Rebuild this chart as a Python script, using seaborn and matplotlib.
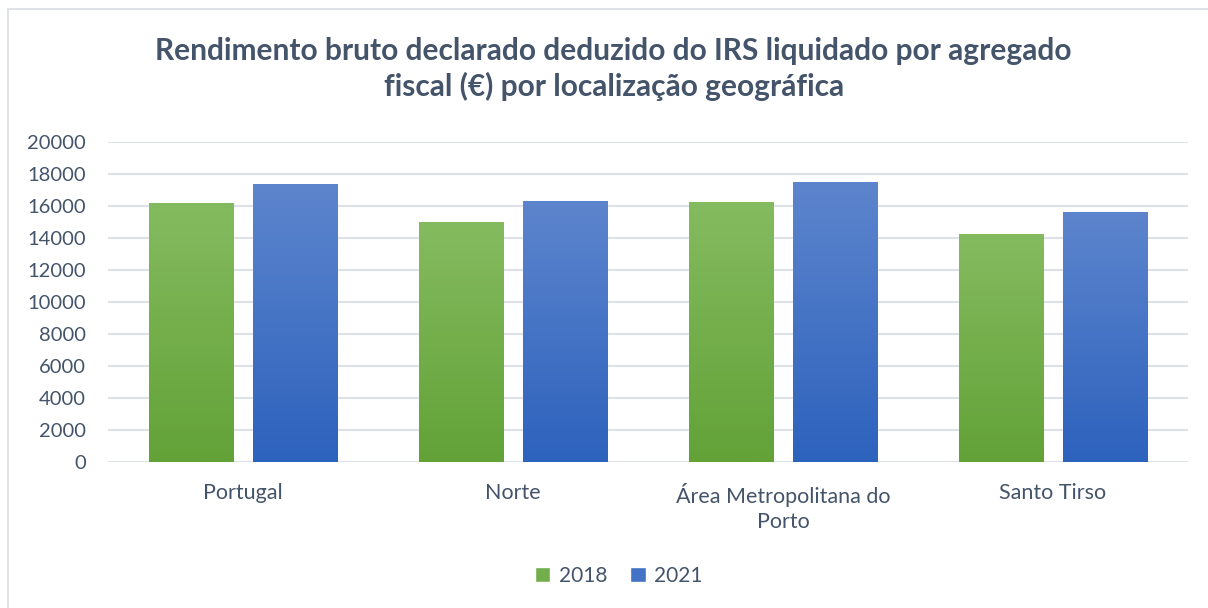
import numpy as np
import pandas as pd
import matplotlib.pyplot as plt
import seaborn as sns
from matplotlib.colors import LinearSegmentedColormap
from matplotlib.patches import Rectangle, Patch

# dados
locais = ["Portugal", "Norte", "Área Metropolitana do\nPorto", "Santo Tirso"]
anos = ["2018", "2021"]
valores_2018 = [16200, 15000, 16250, 14250]
valores_2021 = [17370, 16300, 17500, 15620]

df = pd.DataFrame({
    "local": locais * 2,
    "ano": [anos[0]] * 4 + [anos[1]] * 4,
    "valor": valores_2018 + valores_2021,
})

cor_texto = "#44546A"
# (base, topo) do gradiente de cada série
gradientes = {"2018": ("#62A237", "#85BB60"), "2021": ("#2D62BD", "#5D85CD")}
cores = {"2018": "#72AE4B", "2021": "#4472C4"}

sns.set_style("white")
plt.rcParams["font.family"] = ["Lato", "DejaVu Sans"]

fig = plt.figure(figsize=(12.08, 6.08), dpi=100)
ax = fig.add_axes([108 / 1208, 1 - 462 / 608, 1080 / 1208, 320 / 608])

sns.barplot(data=df, x="local", y="valor", hue="ano", palette=cores,
            width=0.77, gap=0.183, legend=False, ax=ax, zorder=3)

# gradiente vertical em cada barra (como no Excel)
for cont, ano in zip(ax.containers, anos):
    cmap = LinearSegmentedColormap.from_list("g" + ano, gradientes[ano])
    for bar in cont:
        x0, y0 = bar.get_x(), bar.get_y()
        w, h = bar.get_width(), bar.get_height()
        grad = np.linspace(0, 1, 256).reshape(-1, 1)
        im = ax.imshow(grad, cmap=cmap, aspect="auto", origin="lower",
                       extent=(x0, x0 + w, y0, y0 + h), zorder=4)
        im.set_clip_path(bar)

ax.set_xlim(-0.5, 3.5)
ax.set_ylim(0, 20000)
ax.set_yticks(range(0, 20001, 2000))
ax.grid(axis="y", color="#DCE0E7", linewidth=1.5, zorder=0)
ax.set_axisbelow(True)
sns.despine(ax=ax, left=True, bottom=True)
ax.tick_params(axis="both", length=0, colors=cor_texto)
ax.tick_params(axis="x", pad=15, labelsize=15.5)
ax.tick_params(axis="y", pad=16, labelsize=14.5)
for lab in ax.get_xticklabels():
    lab.set_linespacing(1.35)
ax.set_xlabel("")
ax.set_ylabel("")

fig.text(0.508, 1 - 69 / 608,
         "Rendimento bruto declarado deduzido do IRS liquidado por agregado\nfiscal (€) por localização geográfica",
         ha="center", va="center", fontsize=21.5, fontweight="bold",
         color=cor_texto, linespacing=1.3)

handles = [Patch(facecolor=cores[a], label=a) for a in anos]
fig.legend(handles=handles, loc="center", bbox_to_anchor=(0.512, 1 - 576 / 608),
           ncol=2, frameon=False, fontsize=15, labelcolor=cor_texto,
           handlelength=0.75, handleheight=0.75, handletextpad=0.4, columnspacing=1.1)

# moldura da área do gráfico
fig.patches.append(Rectangle((8 / 1208, -0.05), 1.1, 1 - 9 / 608 + 0.05,
                             transform=fig.transFigure, fill=False,
                             edgecolor="#D9DDE3", linewidth=1.2))

fig.savefig("out.png", dpi=100)
